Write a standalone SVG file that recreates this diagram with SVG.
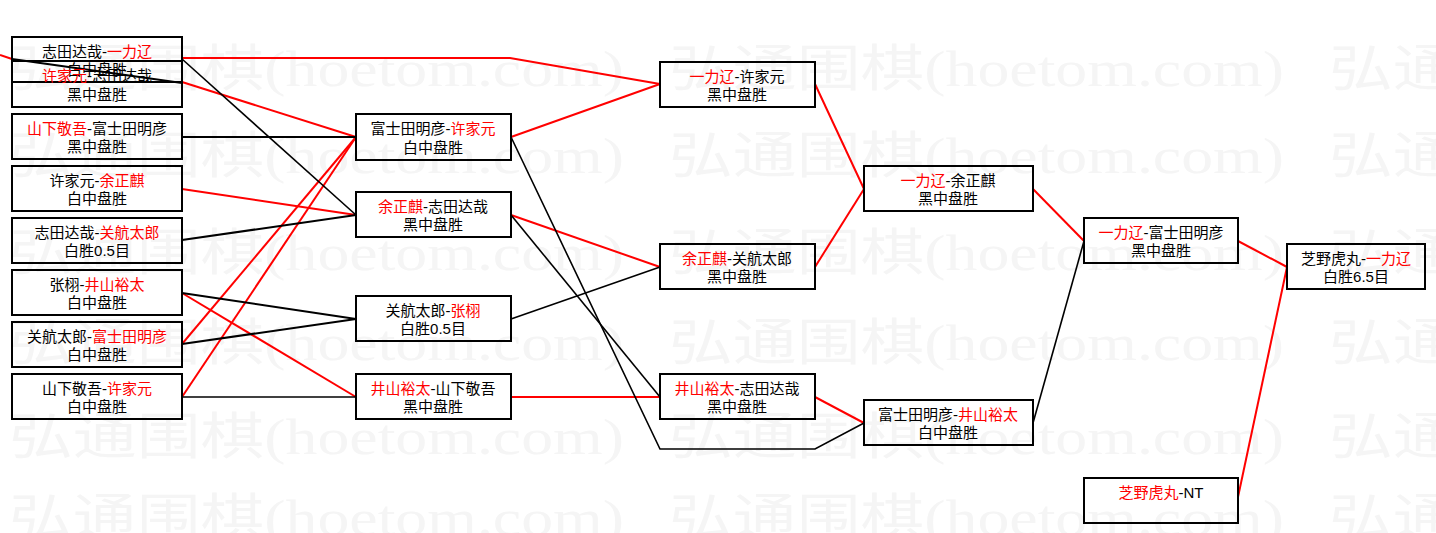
<svg xmlns="http://www.w3.org/2000/svg" width="1436" height="533" viewBox="0 0 1436 533">
<style>
.box{fill:none;stroke:#000;stroke-width:2}
.t{font-family:"Liberation Sans","Noto Sans CJK SC",sans-serif;font-size:15px;fill:#000;text-anchor:middle}
.r{fill:#f00}
.lr{stroke:#f00;stroke-width:2;fill:none}
.lb{stroke:#000;stroke-width:2;fill:none}
.lbt{stroke:#000;stroke-width:1.6;fill:none}
.wm{font-family:"Liberation Serif","Noto Sans CJK SC",serif;font-size:50px;fill:#f5f5f5}
</style>
<rect width="1436" height="533" fill="#fff"/>
<g id="watermark">
<text class="wm" x="9" y="86" textLength="615" lengthAdjust="spacingAndGlyphs">弘通围棋(hoetom.com)</text>
<text class="wm" x="669" y="86" textLength="615" lengthAdjust="spacingAndGlyphs">弘通围棋(hoetom.com)</text>
<text class="wm" x="1329" y="86" textLength="615" lengthAdjust="spacingAndGlyphs">弘通围棋(hoetom.com)</text>
<text class="wm" x="9" y="173" textLength="615" lengthAdjust="spacingAndGlyphs">弘通围棋(hoetom.com)</text>
<text class="wm" x="669" y="173" textLength="615" lengthAdjust="spacingAndGlyphs">弘通围棋(hoetom.com)</text>
<text class="wm" x="1329" y="173" textLength="615" lengthAdjust="spacingAndGlyphs">弘通围棋(hoetom.com)</text>
<text class="wm" x="9" y="270" textLength="615" lengthAdjust="spacingAndGlyphs">弘通围棋(hoetom.com)</text>
<text class="wm" x="669" y="270" textLength="615" lengthAdjust="spacingAndGlyphs">弘通围棋(hoetom.com)</text>
<text class="wm" x="1329" y="270" textLength="615" lengthAdjust="spacingAndGlyphs">弘通围棋(hoetom.com)</text>
<text class="wm" x="9" y="360" textLength="615" lengthAdjust="spacingAndGlyphs">弘通围棋(hoetom.com)</text>
<text class="wm" x="669" y="360" textLength="615" lengthAdjust="spacingAndGlyphs">弘通围棋(hoetom.com)</text>
<text class="wm" x="1329" y="360" textLength="615" lengthAdjust="spacingAndGlyphs">弘通围棋(hoetom.com)</text>
<text class="wm" x="9" y="454" textLength="615" lengthAdjust="spacingAndGlyphs">弘通围棋(hoetom.com)</text>
<text class="wm" x="669" y="454" textLength="615" lengthAdjust="spacingAndGlyphs">弘通围棋(hoetom.com)</text>
<text class="wm" x="1329" y="454" textLength="615" lengthAdjust="spacingAndGlyphs">弘通围棋(hoetom.com)</text>
<text class="wm" x="9" y="535" textLength="615" lengthAdjust="spacingAndGlyphs">弘通围棋(hoetom.com)</text>
<text class="wm" x="669" y="535" textLength="615" lengthAdjust="spacingAndGlyphs">弘通围棋(hoetom.com)</text>
<text class="wm" x="1329" y="535" textLength="615" lengthAdjust="spacingAndGlyphs">弘通围棋(hoetom.com)</text>
</g>
<g id="connectors">
<polyline class="lr" points="0,55 12,59"/>
<polyline class="lr" points="182,58 510,58 660,84"/>
<polyline class="lr" points="182,82 356,137"/>
<polyline class="lr" points="182,189 356,215"/>
<polyline class="lr" points="182,293 356,397"/>
<polyline class="lr" points="182,344 356,137"/>
<polyline class="lr" points="182,397 356,137"/>
<polyline class="lr" points="511,137 660,84"/>
<polyline class="lr" points="511,215 660,267"/>
<polyline class="lr" points="511,397 660,397"/>
<polyline class="lr" points="815,84 864,189"/>
<polyline class="lr" points="815,267 864,189"/>
<polyline class="lr" points="815,397 864,423"/>
<polyline class="lr" points="1033,189 1084,241"/>
<polyline class="lr" points="1238,241 1287,267"/>
<polyline class="lr" points="1238,497 1287,267"/>
<polyline class="lb" points="12,59 182,83"/>
<polyline class="lbt" points="182,59 356,215"/>
<polyline class="lb" points="182,137 356,137"/>
<polyline class="lb" points="182,240 356,215"/>
<polyline class="lb" points="182,293 356,319"/>
<polyline class="lb" points="182,344 356,319"/>
<polyline class="lbt" points="182,397 356,397"/>
<polyline class="lbt" points="511,137 660,449 815,449 864,423"/>
<polyline class="lbt" points="511,215 660,397"/>
<polyline class="lbt" points="511,319 660,267"/>
<polyline class="lbt" points="1033,423 1084,241"/>
</g>
<g id="n-a"><rect class="box" x="12" y="37" width="170" height="45"/><text class="t" x="97" y="57">志田达哉-<tspan class="r">一力辽</tspan></text><text class="t" x="97" y="75">白中盘胜</text></g>
<g id="n-b"><rect class="box" x="12" y="61" width="170" height="46"/><text class="t" x="97" y="81"><tspan class="r">许家元</tspan>-志田达哉</text><text class="t" x="97" y="100">黑中盘胜</text></g>
<g id="n-c"><rect class="box" x="12" y="114" width="170" height="45"/><text class="t" x="97" y="134"><tspan class="r">山下敬吾</tspan>-富士田明彦</text><text class="t" x="97" y="152">黑中盘胜</text></g>
<g id="n-d"><rect class="box" x="12" y="166" width="170" height="45"/><text class="t" x="97" y="186">许家元-<tspan class="r">余正麒</tspan></text><text class="t" x="97" y="204">白中盘胜</text></g>
<g id="n-e"><rect class="box" x="12" y="218" width="170" height="45"/><text class="t" x="97" y="238">志田达哉-<tspan class="r">关航太郎</tspan></text><text class="t" x="97" y="256">白胜0.5目</text></g>
<g id="n-f"><rect class="box" x="12" y="270" width="170" height="45"/><text class="t" x="97" y="290">张栩-<tspan class="r">井山裕太</tspan></text><text class="t" x="97" y="308">白中盘胜</text></g>
<g id="n-g"><rect class="box" x="12" y="322" width="170" height="45"/><text class="t" x="97" y="342">关航太郎-<tspan class="r">富士田明彦</tspan></text><text class="t" x="97" y="360">白中盘胜</text></g>
<g id="n-h"><rect class="box" x="12" y="374" width="170" height="45"/><text class="t" x="97" y="394">山下敬吾-<tspan class="r">许家元</tspan></text><text class="t" x="97" y="412">白中盘胜</text></g>
<g id="n-m1"><rect class="box" x="356" y="114" width="155" height="46"/><text class="t" x="433" y="134">富士田明彦-<tspan class="r">许家元</tspan></text><text class="t" x="433" y="153">白中盘胜</text></g>
<g id="n-m2"><rect class="box" x="356" y="192" width="155" height="45"/><text class="t" x="433" y="212"><tspan class="r">余正麒</tspan>-志田达哉</text><text class="t" x="433" y="230">黑中盘胜</text></g>
<g id="n-m3"><rect class="box" x="356" y="296" width="155" height="45"/><text class="t" x="433" y="316">关航太郎-<tspan class="r">张栩</tspan></text><text class="t" x="433" y="334">白胜0.5目</text></g>
<g id="n-m4"><rect class="box" x="356" y="374" width="155" height="45"/><text class="t" x="433" y="394"><tspan class="r">井山裕太</tspan>-山下敬吾</text><text class="t" x="433" y="412">黑中盘胜</text></g>
<g id="n-n1"><rect class="box" x="660" y="62" width="155" height="45"/><text class="t" x="737" y="82"><tspan class="r">一力辽</tspan>-许家元</text><text class="t" x="737" y="100">黑中盘胜</text></g>
<g id="n-n2"><rect class="box" x="660" y="244" width="155" height="45"/><text class="t" x="737" y="264"><tspan class="r">余正麒</tspan>-关航太郎</text><text class="t" x="737" y="282">黑中盘胜</text></g>
<g id="n-n3"><rect class="box" x="660" y="374" width="155" height="45"/><text class="t" x="737" y="394"><tspan class="r">井山裕太</tspan>-志田达哉</text><text class="t" x="737" y="412">黑中盘胜</text></g>
<g id="n-p1"><rect class="box" x="864" y="166" width="169" height="45"/><text class="t" x="948" y="186"><tspan class="r">一力辽</tspan>-余正麒</text><text class="t" x="948" y="204">黑中盘胜</text></g>
<g id="n-p2"><rect class="box" x="864" y="400" width="169" height="45"/><text class="t" x="948" y="420">富士田明彦-<tspan class="r">井山裕太</tspan></text><text class="t" x="948" y="438">白中盘胜</text></g>
<g id="n-q1"><rect class="box" x="1084" y="218" width="154" height="45"/><text class="t" x="1161" y="238"><tspan class="r">一力辽</tspan>-富士田明彦</text><text class="t" x="1161" y="256">黑中盘胜</text></g>
<g id="n-q2"><rect class="box" x="1084" y="478" width="154" height="45"/><text class="t" x="1161" y="498"><tspan class="r">芝野虎丸</tspan>-NT</text></g>
<g id="n-r"><rect class="box" x="1287" y="244" width="138" height="45"/><text class="t" x="1356" y="264">芝野虎丸-<tspan class="r">一力辽</tspan></text><text class="t" x="1356" y="282">白胜6.5目</text></g>
</svg>
